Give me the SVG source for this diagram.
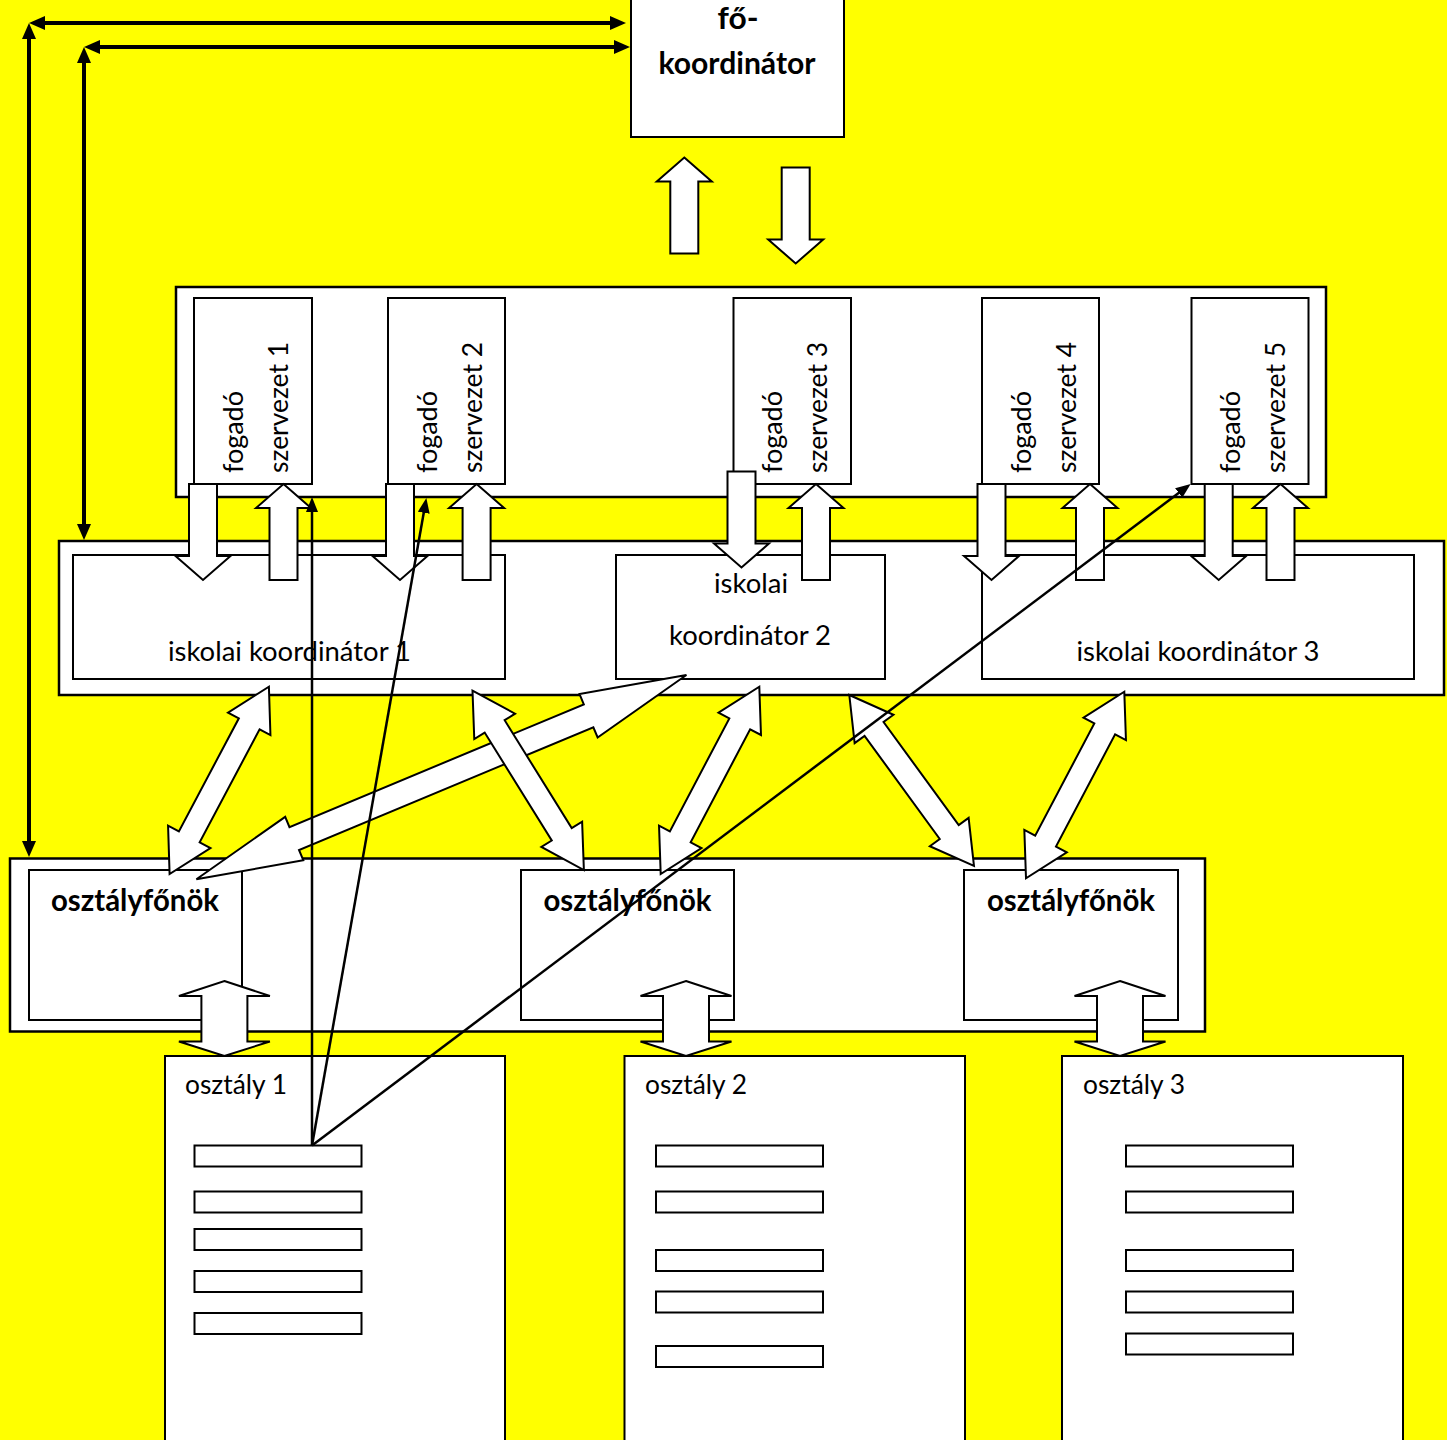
<svg xmlns="http://www.w3.org/2000/svg" xmlns:xlink="http://www.w3.org/1999/xlink" width="1447" height="1440" viewBox="0 0 1447 1440">
<style>
.box{fill:#fff;stroke:#000;stroke-width:2}
.cont{fill:#fff;stroke:#000;stroke-width:2.5}
.blk{fill:#fff;stroke:#000;stroke-width:2;stroke-linejoin:miter}
.t{font-family:Lato,"Liberation Sans",sans-serif;font-size:27px;fill:#000}
.b{font-family:Lato,"Liberation Sans",sans-serif;font-size:30px;font-weight:bold;fill:#000}
.ln{stroke:#000;stroke-width:4;fill:none}
.thin{stroke:#000;stroke-width:2.5;fill:none}
</style>
<defs>
<marker id="ah" viewBox="0 0 16 14" refX="2" refY="7" markerWidth="16" markerHeight="14" markerUnits="userSpaceOnUse" orient="auto-start-reverse"><path d="M0,0 L16,7 L0,14 z" fill="#000"/></marker>
<marker id="ahs" viewBox="0 0 15 12" refX="2" refY="6" markerWidth="15" markerHeight="12" markerUnits="userSpaceOnUse" orient="auto"><path d="M0,0 L15,6 L0,12 z" fill="#000"/></marker>
<polygon id="up" class="blk" points="0,0 27.5,24 14,24 14,96 -14,96 -14,24 -27.5,24"/>
<polygon id="down" class="blk" points="-14,0 14,0 14,72 27.5,72 0,96 -27.5,72 -14,72"/>
<polygon id="vda" class="blk" points="0,981 45.5,996 23,996 23,1041.5 45.5,1041.5 0,1056 -45.5,1041.5 -23,1041.5 -23,996 -45.5,996"/>
</defs>
<rect x="0" y="0" width="1447" height="1440" fill="#ffff00"/>

<g id="fokoordinator">
<rect class="box" x="631" y="-5" width="213" height="142"/>
<text class="b" x="738" y="29" text-anchor="middle" textLength="41" lengthAdjust="spacingAndGlyphs">fő-</text>
<text class="b" x="737" y="74" text-anchor="middle" textLength="157" lengthAdjust="spacingAndGlyphs">koordinátor</text>
</g>

<g id="fogado-container"><rect class="cont" x="176" y="287" width="1150" height="210"/></g>
<g id="fogado1">
<rect class="box" x="194" y="298" width="118" height="186"/>
<text class="t" transform="translate(242.5,473) rotate(-90)" textLength="82" lengthAdjust="spacingAndGlyphs">fogadó</text>
<text class="t" transform="translate(287.5,473) rotate(-90)" textLength="131" lengthAdjust="spacingAndGlyphs">szervezet 1</text>
</g>
<g id="fogado2">
<rect class="box" x="388" y="298" width="117" height="186"/>
<text class="t" transform="translate(436.5,473) rotate(-90)" textLength="82" lengthAdjust="spacingAndGlyphs">fogadó</text>
<text class="t" transform="translate(481.5,473) rotate(-90)" textLength="131" lengthAdjust="spacingAndGlyphs">szervezet 2</text>
</g>
<g id="fogado3">
<rect class="box" x="733.5" y="298" width="117.5" height="186"/>
<text class="t" transform="translate(782,473) rotate(-90)" textLength="82" lengthAdjust="spacingAndGlyphs">fogadó</text>
<text class="t" transform="translate(827,473) rotate(-90)" textLength="131" lengthAdjust="spacingAndGlyphs">szervezet 3</text>
</g>
<g id="fogado4">
<rect class="box" x="982" y="298" width="117" height="186"/>
<text class="t" transform="translate(1030.5,473) rotate(-90)" textLength="82" lengthAdjust="spacingAndGlyphs">fogadó</text>
<text class="t" transform="translate(1075.5,473) rotate(-90)" textLength="131" lengthAdjust="spacingAndGlyphs">szervezet 4</text>
</g>
<g id="fogado5">
<rect class="box" x="1191.5" y="298" width="117" height="186"/>
<text class="t" transform="translate(1240,473) rotate(-90)" textLength="82" lengthAdjust="spacingAndGlyphs">fogadó</text>
<text class="t" transform="translate(1285,473) rotate(-90)" textLength="131" lengthAdjust="spacingAndGlyphs">szervezet 5</text>
</g>

<g id="iskolai-container"><rect class="cont" x="59" y="541" width="1385" height="154"/></g>
<g id="iskolai1">
<rect class="box" x="73" y="555" width="432" height="124"/>
<text class="t" x="289.5" y="661" text-anchor="middle" textLength="243" lengthAdjust="spacingAndGlyphs">iskolai koordinátor 1</text>
</g>
<g id="iskolai2">
<rect class="box" x="616" y="555" width="269" height="124"/>
<text class="t" x="751" y="593" text-anchor="middle" textLength="74" lengthAdjust="spacingAndGlyphs">iskolai</text>
<text class="t" x="750" y="645" text-anchor="middle" textLength="162" lengthAdjust="spacingAndGlyphs">koordinátor 2</text>
</g>
<g id="iskolai3">
<rect class="box" x="982" y="555" width="432" height="124"/>
<text class="t" x="1198" y="661" text-anchor="middle" textLength="243" lengthAdjust="spacingAndGlyphs">iskolai koordinátor 3</text>
</g>

<g id="osztalyfonok-container"><rect class="cont" x="10" y="858.5" width="1195" height="173"/></g>
<g id="osztalyfonok1">
<rect class="box" x="29" y="870" width="213" height="150"/>
<text class="b" x="135" y="911" text-anchor="middle" textLength="168" lengthAdjust="spacingAndGlyphs">osztályfőnök</text>
</g>
<g id="osztalyfonok2">
<rect class="box" x="521" y="870" width="213" height="150"/>
<text class="b" x="627.5" y="911" text-anchor="middle" textLength="168" lengthAdjust="spacingAndGlyphs">osztályfőnök</text>
</g>
<g id="osztalyfonok3">
<rect class="box" x="964" y="870" width="214" height="150"/>
<text class="b" x="1071" y="911" text-anchor="middle" textLength="168" lengthAdjust="spacingAndGlyphs">osztályfőnök</text>
</g>

<g id="osztaly1">
<rect class="box" x="165" y="1056" width="340" height="400"/>
<text class="t" x="185" y="1094" textLength="102" lengthAdjust="spacingAndGlyphs">osztály 1</text>
<rect class="box" x="194.5" y="1145.5" width="167" height="21"/>
<rect class="box" x="194.5" y="1191.5" width="167" height="21"/>
<rect class="box" x="194.5" y="1229" width="167" height="21"/>
<rect class="box" x="194.5" y="1271" width="167" height="21"/>
<rect class="box" x="194.5" y="1313" width="167" height="21"/>
</g>
<g id="osztaly2">
<rect class="box" x="624.5" y="1056" width="340.5" height="400"/>
<text class="t" x="645" y="1094" textLength="102" lengthAdjust="spacingAndGlyphs">osztály 2</text>
<rect class="box" x="656" y="1145.5" width="167" height="21"/>
<rect class="box" x="656" y="1191.5" width="167" height="21"/>
<rect class="box" x="656" y="1250" width="167" height="21"/>
<rect class="box" x="656" y="1291.5" width="167" height="21"/>
<rect class="box" x="656" y="1346" width="167" height="21"/>
</g>
<g id="osztaly3">
<rect class="box" x="1062" y="1056" width="341" height="400"/>
<text class="t" x="1083" y="1094" textLength="102" lengthAdjust="spacingAndGlyphs">osztály 3</text>
<rect class="box" x="1126" y="1145.5" width="167" height="21"/>
<rect class="box" x="1126" y="1191.5" width="167" height="21"/>
<rect class="box" x="1126" y="1250" width="167" height="21"/>
<rect class="box" x="1126" y="1291.5" width="167" height="21"/>
<rect class="box" x="1126" y="1333.5" width="167" height="21"/>
</g>

<g id="connectors">
<!-- block arrows at main coordinator -->
<use href="#up" x="684.3" y="157.5"/>
<use href="#down" x="795.7" y="167.5"/>
<!-- fogado <-> iskolai -->
<use href="#down" x="203" y="484"/>
<use href="#up" x="283.5" y="484"/>
<use href="#down" x="400" y="484"/>
<use href="#up" x="476.6" y="484"/>
<use href="#down" x="741.5" y="471.5"/>
<use href="#up" x="816" y="484"/>
<use href="#down" x="991.5" y="484"/>
<use href="#up" x="1090" y="484"/>
<use href="#down" x="1218.7" y="484"/>
<use href="#up" x="1280.5" y="484"/>
<!-- iskolai <-> osztalyfonok double arrows -->
<polygon class="blk" transform="translate(169.6,874) rotate(-62.07)" points="0,0 42,-24 42,-11.75 170,-11.75 170,-24 212,0 170,24 170,11.75 42,11.75 42,24"/>
<polygon class="blk" transform="translate(196.4,879.3) rotate(-22.63)" points="0,0 106,-23.5 106,-12.4 424.9,-12.4 424.9,-23.5 530.9,0 424.9,23.5 424.9,12.4 106,12.4 106,23.5"/>
<polygon class="blk" transform="translate(472.5,690.7) rotate(58.15)" points="0,0 42,-24 42,-11.75 169.1,-11.75 169.1,-24 211.1,0 169.1,24 169.1,11.75 42,11.75 42,24"/>
<polygon class="blk" transform="translate(660.7,874) rotate(-62.24)" points="0,0 42,-24 42,-11.75 169.7,-11.75 169.7,-24 211.7,0 169.7,24 169.7,11.75 42,11.75 42,24"/>
<polygon class="blk" transform="translate(849.3,695) rotate(53.9)" points="0,0 42,-24 42,-11.75 169.6,-11.75 169.6,-24 211.6,0 169.6,24 169.6,11.75 42,11.75 42,24"/>
<polygon class="blk" transform="translate(1026,878.3) rotate(-62.22)" points="0,0 42,-24 42,-11.75 168.9,-11.75 168.9,-24 210.9,0 168.9,24 168.9,11.75 42,11.75 42,24"/>
<!-- osztalyfonok <-> osztaly -->
<use href="#vda" x="224.4" y="0"/>
<use href="#vda" x="686" y="0"/>
<use href="#vda" x="1120" y="0"/>
<!-- thin arrows from osztaly 1 -->
<line class="thin" x1="312" y1="1145.5" x2="312" y2="510" marker-end="url(#ahs)"/>
<line class="thin" x1="312" y1="1145.5" x2="424.1" y2="510.8" marker-end="url(#ahs)"/>
<line class="thin" x1="312" y1="1145.5" x2="1180.3" y2="491.8" marker-end="url(#ahs)"/>
<!-- thick line arrows -->
<line class="ln" x1="43" y1="23" x2="612" y2="23" marker-start="url(#ah)" marker-end="url(#ah)"/>
<line class="ln" x1="29" y1="37" x2="29" y2="843" marker-start="url(#ah)" marker-end="url(#ah)"/>
<line class="ln" x1="98" y1="47" x2="616" y2="47" marker-start="url(#ah)" marker-end="url(#ah)"/>
<line class="ln" x1="84" y1="61" x2="84" y2="526" marker-start="url(#ah)" marker-end="url(#ah)"/>
</g>
</svg>
